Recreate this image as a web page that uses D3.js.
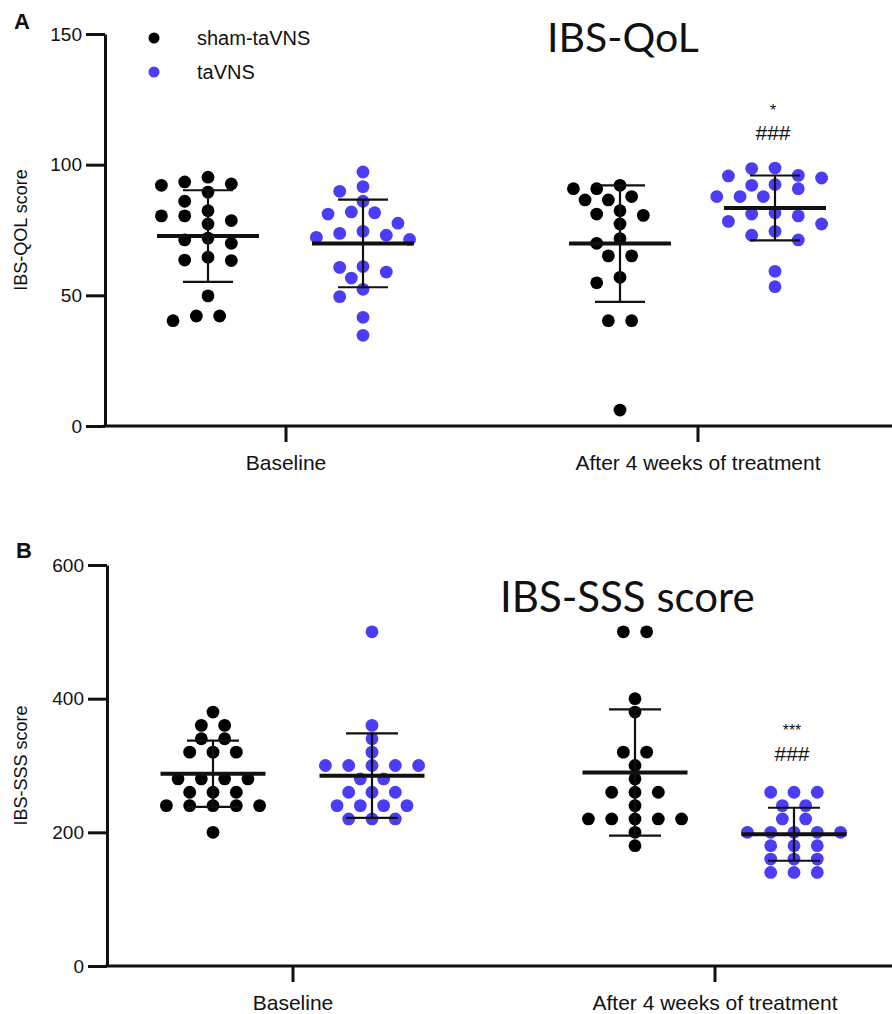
<!DOCTYPE html>
<html>
<head>
<meta charset="utf-8">
<script src="https://cdn.jsdelivr.net/npm/d3@7"></script>
<style>
  html, body { margin: 0; padding: 0; background: #fff; }
  svg { display: block; }
  text { font-family: "Liberation Sans", Arial, sans-serif; fill: #111; }
</style>
</head>
<body>
<svg id="chart" width="892" height="1014"></svg>
<script>
// ---------------- DATA ----------------
const categories = ["Baseline", "After 4 weeks of treatment"];
const seriesNames = ["sham-taVNS", "taVNS"];
const seriesColors = ["#000000", "#4b3cf5"];

// Panel A: IBS-QOL score
const qolShamBaseline = [95.2, 93.4, 92.6, 92.1, 89.5, 86.0, 82.4, 80.4, 80.4, 78.6, 77.3, 71.9, 71.2, 69.9, 64.6, 63.5, 63.3, 49.8, 42.1, 42.1, 40.3];
const qolTaVNSBaseline = [97.2, 91.6, 89.8, 86.0, 81.6, 81.9, 81.1, 77.6, 73.0, 73.7, 74.5, 71.4, 72.2, 58.9, 60.7, 61.0, 56.6, 52.3, 49.5, 41.6, 34.7];
const qolShamAfter = [90.8, 90.8, 92.1, 87.8, 86.5, 86.5, 80.6, 82.4, 81.1, 77.3, 69.9, 71.7, 65.1, 65.1, 56.9, 54.8, 40.3, 40.3, 6.1];
const qolTaVNSAfter = [98.5, 98.7, 95.7, 94.9, 95.9, 92.4, 92.1, 90.8, 87.8, 87.8, 87.8, 80.4, 81.6, 81.1, 78.3, 77.3, 74.5, 73.0, 71.2, 59.2, 53.3];
const qolTicks = [0, 50, 100, 150];
const qolSignif = ["*", "###"];

// Panel B: IBS-SSS score
const sssShamBaseline = [380, 360, 360, 340, 340, 320, 320, 320, 280, 280, 280, 280, 260, 260, 260, 240, 240, 240, 240, 240, 200];
const sssTaVNSBaseline = [500, 360, 340, 320, 300, 300, 300, 300, 300, 280, 280, 260, 260, 260, 240, 240, 240, 240, 220, 220, 220];
const sssShamAfter = [500, 500, 400, 380, 320, 320, 300, 280, 260, 260, 260, 240, 220, 220, 220, 220, 220, 200, 180];
const sssTaVNSAfter = [260, 260, 260, 240, 240, 220, 220, 200, 200, 200, 200, 200, 180, 180, 180, 160, 160, 160, 140, 140, 140];
const sssTicks = [0, 200, 400, 600];
const sssSignif = ["***", "###"];

// ---------------- DRAW ----------------
const svg = d3.select("#chart");

// beeswarm: equal values laid out as centred rows, others pushed sideways on a half-step grid
function swarm(values, y, step, dxMin, dyMin) {
  const groups = d3.groups(values, v => v).sort((a, b) => b[0] - a[0]);
  const placed = [];
  const collides = (x, yy) => placed.some(p => {
    const a = (p.dx - x) / dxMin, b = (p.y - yy) / dyMin;
    return a * a + b * b < 1;
  });
  for (const [v, arr] of groups) {
    const yy = y(v), n = arr.length;
    const base = d3.range(n).map(i => (i - (n - 1) / 2) * 2 * step);
    for (let k = 0; k < 80; k++) {
      const s = (k % 2 ? -1 : 1) * Math.ceil(k / 2) * step;
      const xs = base.map(b => b + s);
      if (xs.every(x => !collides(x, yy))) { xs.forEach(x => placed.push({ v, dx: x, y: yy })); break; }
    }
  }
  return placed;
}

function panel(cfg) {
  const g = svg.append("g");
  const y = d3.scaleLinear().domain([0, cfg.yMax]).range([cfg.y0, cfg.y1]);
  const x = d3.scalePoint().domain(categories).range(cfg.xRange);
  const off = d3.scalePoint().domain(seriesNames).range([-cfg.groupOff, cfg.groupOff]);

  // letter
  g.append("text").attr("x", cfg.letterX).attr("y", cfg.letterY)
    .style("font-weight", "bold").style("font-size", "22px").text(cfg.letter);

  // title
  g.append("text").attr("x", cfg.titleX).attr("y", cfg.titleY)
    .style("font-family", "Lato, 'Open Sans', sans-serif").style("font-size", cfg.titleSize + "px")
    .text(cfg.title);

  // y axis
  const yAxis = g.append("g").attr("transform", `translate(${cfg.axisX},0)`)
    .call(d3.axisLeft(y).tickValues(cfg.ticks).tickSize(19).tickSizeOuter(0).tickPadding(4));
  yAxis.select(".domain").attr("stroke", "#111").attr("stroke-width", 3);
  yAxis.selectAll(".tick line").attr("stroke", "#111").attr("stroke-width", 3);
  yAxis.selectAll(".tick text").style("font-size", "19px").attr("fill", "#222");

  // y title
  g.append("text")
    .attr("transform", `translate(${cfg.yTitleX},${(cfg.y0 + cfg.y1) / 2}) rotate(-90)`)
    .attr("text-anchor", "middle").style("font-size", "18px").attr("fill", "#222").text(cfg.yTitle);

  // x axis
  g.append("line").attr("x1", cfg.axisX - 1.5).attr("x2", 892)
    .attr("y1", cfg.y0).attr("y2", cfg.y0).attr("stroke", "#111").attr("stroke-width", 3);
  const xAxis = g.append("g").attr("transform", `translate(0,${cfg.y0})`)
    .call(d3.axisBottom(x).tickSize(16).tickPadding(9));
  xAxis.select(".domain").remove();
  xAxis.selectAll(".tick line").attr("stroke", "#111").attr("stroke-width", 3);
  xAxis.selectAll(".tick text").style("font-size", "21px").attr("fill", "#222").attr("dy", "0.9em");

  // groups
  cfg.data.forEach((catData, ci) => {
    catData.forEach((vals, si) => {
      const cx = x(categories[ci]) + off(seriesNames[si]);
      const pts = swarm(vals, y, cfg.step, 20, 13);
      g.append("g").selectAll("circle").data(pts).join("circle")
        .attr("cx", d => cx + d.dx).attr("cy", d => y(d.v)).attr("r", 6.4)
        .attr("fill", seriesColors[si]);
      const m = d3.mean(vals), sd = d3.deviation(vals);
      const eb = g.append("g").attr("stroke", "#111");
      eb.append("line").attr("x1", cx).attr("x2", cx).attr("y1", y(m + sd)).attr("y2", y(m - sd)).attr("stroke-width", 2.2);
      eb.append("line").attr("x1", cx - cfg.capW).attr("x2", cx + cfg.capW).attr("y1", y(m + sd)).attr("y2", y(m + sd)).attr("stroke-width", 2.2);
      eb.append("line").attr("x1", cx - cfg.capW).attr("x2", cx + cfg.capW).attr("y1", y(m - sd)).attr("y2", y(m - sd)).attr("stroke-width", 2.2);
      eb.append("line").attr("x1", cx - cfg.meanW).attr("x2", cx + cfg.meanW).attr("y1", y(m)).attr("y2", y(m)).attr("stroke-width", 4);
    });
  });

  // significance marks
  const sx = x(categories[1]) + off(seriesNames[1]) - 2;
  g.append("text").attr("x", sx).attr("y", cfg.sig1Y).attr("text-anchor", "middle")
    .style("font-size", "16px").attr("fill", "#333").text(cfg.signif[0]);
  g.append("text").attr("x", sx).attr("y", cfg.sig2Y).attr("text-anchor", "middle")
    .style("font-size", "21px").attr("fill", "#333").text(cfg.signif[1]);

  return g;
}

panel({
  letter: "A", letterX: 14, letterY: 29,
  title: "IBS-QoL", titleX: 547, titleY: 52, titleSize: 41,
  yMax: 150, y0: 426, y1: 34, ticks: qolTicks, axisX: 105,
  xRange: [285.5, 697.5], groupOff: 77.5, step: 11.65,
  capW: 25, meanW: 51, yTitle: "IBS-QOL score", yTitleX: 27,
  data: [[qolShamBaseline, qolTaVNSBaseline], [qolShamAfter, qolTaVNSAfter]],
  signif: qolSignif, sig1Y: 116, sig2Y: 140
});

panel({
  letter: "B", letterX: 16, letterY: 558,
  title: "IBS-SSS score", titleX: 500, titleY: 612, titleSize: 42,
  yMax: 600, y0: 966, y1: 565, ticks: sssTicks, axisX: 107,
  xRange: [292.5, 714.5], groupOff: 79.5, step: 11.65,
  capW: 26, meanW: 52.5, yTitle: "IBS-SSS score", yTitleX: 27,
  data: [[sssShamBaseline, sssTaVNSBaseline], [sssShamAfter, sssTaVNSAfter]],
  signif: sssSignif, sig1Y: 736, sig2Y: 761
});

// legend (panel A)
const legend = svg.append("g");
seriesNames.forEach((name, i) => {
  const ly = 38 + i * 34;
  legend.append("circle").attr("cx", 154).attr("cy", ly).attr("r", 5.5).attr("fill", seriesColors[i]);
  legend.append("text").attr("x", 197).attr("y", ly).attr("dy", "0.35em")
    .style("font-size", "20px").attr("fill", "#222").text(name);
});
</script>
</body>
</html>
